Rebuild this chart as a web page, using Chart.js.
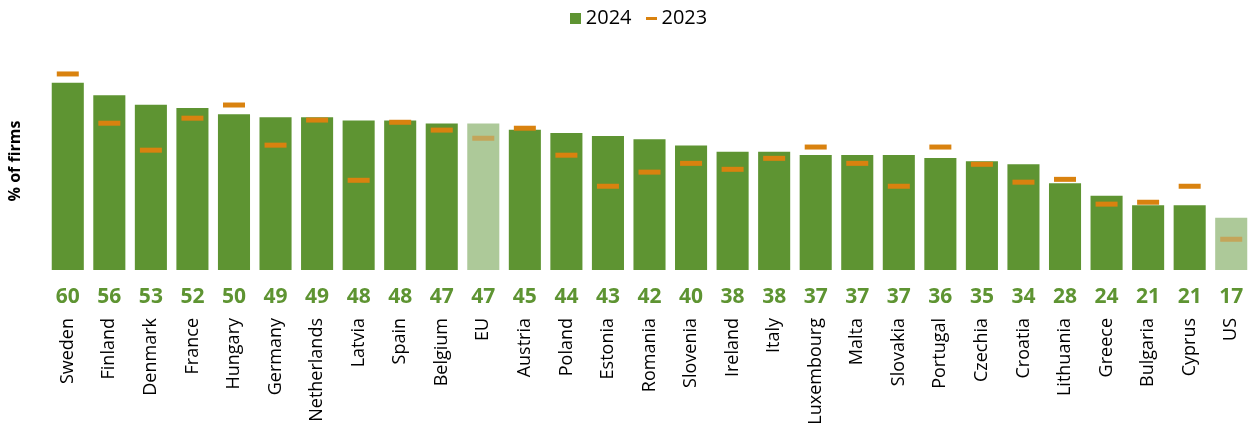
<!DOCTYPE html>
<html>
<head>
<meta charset="utf-8">
<title>% of firms 2024 vs 2023</title>
<script src="https://cdn.jsdelivr.net/npm/chart.js@4.4.1/dist/chart.umd.min.js"></script>
<style>
  html, body { margin: 0; padding: 0; background: #fff; }
  #wrap { width: 1253px; height: 425px; }
</style>
</head>
<body>
<div id="wrap"><canvas id="chart" width="1253" height="425"></canvas></div>
<script>
// data
const countries = ['Sweden','Finland','Denmark','France','Hungary','Germany','Netherlands','Latvia','Spain','Belgium','EU','Austria','Poland','Estonia','Romania','Slovenia','Ireland','Italy','Luxembourg','Malta','Slovakia','Portugal','Czechia','Croatia','Lithuania','Greece','Bulgaria','Cyprus','US']
const values2024 = [60,56,53,52,50,49,49,48,48,47,47,45,44,43,42,40,38,38,37,37,37,36,35,34,28,24,21,21,17]
const values2023 = [62.5,46.8,38.2,48.4,52.6,39.8,47.8,28.6,47.1,44.6,42.0,45.2,36.6,26.7,31.2,34.0,32.1,35.6,39.2,34.0,26.7,39.2,33.7,28.0,28.9,21.0,21.6,26.7,9.8]
const highlighted = ['EU','US']

const GREEN = '#5e9432'
const GREEN_LIGHT = '#adc999'
const ORANGE = '#d9820f'
const ORANGE_MUTED = '#c4a55a'
const FONT = "'Open Sans'"

const isHi = c => highlighted.includes(c)

// small swatch canvases for the legend
function swatch(w, h, color){
  const c = document.createElement('canvas')
  c.width = w; c.height = h
  const g = c.getContext('2d')
  g.fillStyle = color
  g.fillRect(0, 0, w, h)
  return c
}
const swatch2024 = swatch(11, 11, GREEN)
const swatch2023 = swatch(11, 3, ORANGE)

// value numbers under the baseline
const valueLabels = {
  id: 'valueLabels',
  afterDatasetsDraw(chart){
    const {ctx, chartArea, scales} = chart
    ctx.save()
    ctx.font = 'bold 21px ' + FONT
    ctx.fillStyle = GREEN
    ctx.textAlign = 'center'
    ctx.textBaseline = 'middle'
    values2024.forEach((v, i)=>{
      ctx.fillText(String(v), scales.x.getPixelForValue(i), chartArea.bottom + 27)
    })
    ctx.restore()
  }
}

// fixed legend height so the plot top lands where it should
const legendFit = {
  id: 'legendFit',
  beforeInit(chart){
    const fit = chart.legend.fit
    chart.legend.fit = function(){
      fit.bind(chart.legend)()
      this.height = 63
    }
  },
  afterLayout(chart){
    chart.legend.left = 30
  }
}

function draw(){
  Chart.defaults.font.family = FONT
  Chart.defaults.color = '#000'

  new Chart(document.getElementById('chart'), {
    data: {
      labels: countries,
      datasets: [
        {
          type: 'line',
          label: '2023',
          data: values2023,
          showLine: false,
          pointStyle: 'line',
          pointRadius: 11,
          pointHoverRadius: 11,
          pointBorderWidth: 5,
          pointHoverBorderWidth: 5,
          pointBorderColor: countries.map(c => isHi(c) ? ORANGE_MUTED : ORANGE),
          pointBackgroundColor: countries.map(c => isHi(c) ? ORANGE_MUTED : ORANGE),
          borderColor: ORANGE,
        },
        {
          type: 'bar',
          label: '2024',
          data: values2024,
          backgroundColor: countries.map(c => isHi(c) ? GREEN_LIGHT : GREEN),
          borderColor: 'rgba(255,255,255,0.45)',
          borderWidth: 1,
          barPercentage: 0.82,
          categoryPercentage: 1,
        },
      ]
    },
    options: {
      responsive: false,
      animation: false,
      layout: { autoPadding: false, padding: { top: -11, right: 1, left: 0, bottom: 0 } },
      plugins: {
        legend: {
          position: 'top',
          labels: {
            usePointStyle: true,
            boxWidth: 1,
            boxHeight: 11,
            padding: 19,
            font: { size: 20 },
            color: '#000',
            generateLabels: () => [
              { text: '2024', pointStyle: swatch2024, fillStyle: GREEN, strokeStyle: GREEN, lineWidth: 0, datasetIndex: 1 },
              { text: '2023', pointStyle: swatch2023, fillStyle: ORANGE, strokeStyle: ORANGE, lineWidth: 0, datasetIndex: 0 },
            ]
          }
        },
        tooltip: { enabled: true }
      },
      scales: {
        x: {
          offset: true,
          grid: { display: false, drawTicks: false, tickLength: 0 },
          border: { display: false },
          ticks: {
            autoSkip: false,
            minRotation: 90,
            maxRotation: 90,
            padding: 48,
            font: { size: 18 },
            color: '#000'
          },
          afterFit: s => { s.height = 155; s.paddingLeft = 0; s.paddingRight = 0 }
        },
        y: {
          min: 0,
          max: 69.5,
          grid: { display: false, drawTicks: false },
          border: { display: false },
          ticks: { display: false },
          title: {
            display: true,
            text: '% of firms',
            font: { size: 16, weight: 'bold' },
            color: '#000',
            padding: { top: 6, bottom: 0 }
          },
          afterFit: s => { s.width = 47 }
        }
      }
    },
    plugins: [valueLabels, legendFit]
  })
}

Promise.all([
  document.fonts.load("18px 'Open Sans'"),
  document.fonts.load("bold 21px 'Open Sans'")
]).catch(()=>{}).then(draw)
</script>
</body>
</html>
